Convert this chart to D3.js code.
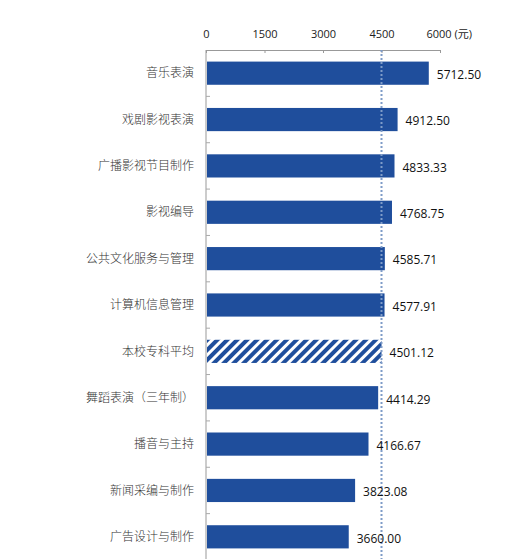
<!DOCTYPE html>
<html>
<head>
<meta charset="utf-8">
<script src="https://cdn.jsdelivr.net/npm/d3@7"></script>
<style>
  body { margin: 0; background: #fff; }
  svg { display: block; }
</style>
</head>
<body>
<script>
// 各专业月均收入（元）
const majors = ["音乐表演", "戏剧影视表演", "广播影视节目制作", "影视编导", "公共文化服务与管理",
  "计算机信息管理", "本校专科平均", "舞蹈表演（三年制）", "播音与主持", "新闻采编与制作", "广告设计与制作"];
const incomes = [5712.50, 4912.50, 4833.33, 4768.75, 4585.71, 4577.91, 4501.12, 4414.29, 4166.67, 3823.08, 3660.00];
const xTicks = [0, 1500, 3000, 4500, 6000];
const refValue = 4500;
const avgLabel = "本校专科平均";

const width = 520, height = 559;
const margin = {top: 50, right: 80, bottom: 0, left: 206};

const data = majors.map((m, i) => ({major: m, value: incomes[i]}));

const svg = d3.select("body").append("svg")
  .attr("width", width)
  .attr("height", height);

const x = d3.scaleLinear()
  .domain([0, 6000])
  .range([margin.left, 440]);

const y = d3.scaleBand()
  .domain(majors)
  .range([margin.top, height + 1])
  .paddingInner(0.5)
  .paddingOuter(0.25);

// 斜线填充
const defs = svg.append("defs");
const pat = defs.append("pattern")
  .attr("id", "hatch")
  .attr("patternUnits", "userSpaceOnUse")
  .attr("width", 7)
  .attr("height", 7)
  .attr("patternTransform", "rotate(45)");
pat.append("rect").attr("width", 7).attr("height", 7).attr("fill", "#fff");
pat.append("rect").attr("width", 4).attr("height", 7).attr("fill", "#1f4e9c");

// 顶部坐标轴
const xAxis = svg.append("g")
  .attr("transform", `translate(0,${margin.top})`)
  .call(d3.axisTop(x).tickValues(xTicks).tickSizeInner(-3).tickSizeOuter(-3).tickPadding(12)
    .tickFormat((d, i) => i === xTicks.length - 1 ? d + " (元)" : d));
xAxis.select(".domain").attr("stroke", "#999");
xAxis.selectAll(".tick line").attr("stroke", "#999");
xAxis.selectAll(".tick text")
  .attr("font-family", "Open Sans, Noto Sans CJK SC, sans-serif")
  .attr("font-size", 11)
  .attr("fill", "#222");
xAxis.selectAll(".tick").filter((d, i) => i === xTicks.length - 1)
  .select("text").attr("text-anchor", "start").attr("dx", "-14");

// 左侧纵轴
svg.append("line")
  .attr("x1", margin.left).attr("x2", margin.left)
  .attr("y1", margin.top).attr("y2", height)
  .attr("stroke", "#999");
svg.append("g")
  .selectAll("line")
  .data(majors.slice(1))
  .join("line")
  .attr("x1", margin.left).attr("x2", margin.left + 4)
  .attr("y1", d => y(d) - y.step() * y.paddingInner() / 2)
  .attr("y2", d => y(d) - y.step() * y.paddingInner() / 2)
  .attr("stroke", "#aaa");

// 柱
svg.append("g")
  .selectAll("rect")
  .data(data)
  .join("rect")
  .attr("x", x(0) + 1)
  .attr("y", d => y(d.major))
  .attr("width", d => x(d.value) - x(0) - 1)
  .attr("height", y.bandwidth())
  .attr("fill", d => d.major === avgLabel ? "url(#hatch)" : "#1f4e9c");

// 4500参考线
svg.append("line")
  .attr("x1", x(refValue)).attr("x2", x(refValue))
  .attr("y1", margin.top).attr("y2", height)
  .attr("stroke", "#7f9cc8")
  .attr("stroke-width", 2)
  .attr("stroke-dasharray", "2,2");

// 数值标签
svg.append("g")
  .selectAll("text")
  .data(data)
  .join("text")
  .attr("x", d => x(d.value) + 8)
  .attr("y", d => y(d.major) + y.bandwidth() / 2 + 2)
  .attr("dy", "0.32em")
  .attr("font-family", "Open Sans, sans-serif")
  .attr("font-size", 12)
  .attr("fill", "#111")
  .text(d => d3.format(".2f")(d.value));

// 分类标签
svg.append("g")
  .selectAll("text")
  .data(data)
  .join("text")
  .attr("x", 194)
  .attr("y", d => y(d.major) + y.bandwidth() / 2)
  .attr("dy", "0.35em")
  .attr("text-anchor", "end")
  .attr("font-family", "Noto Sans CJK SC, sans-serif")
  .attr("font-size", 12)
  .attr("font-weight", 300)
  .attr("fill", "#333")
  .text(d => d.major);
</script>
</body>
</html>
